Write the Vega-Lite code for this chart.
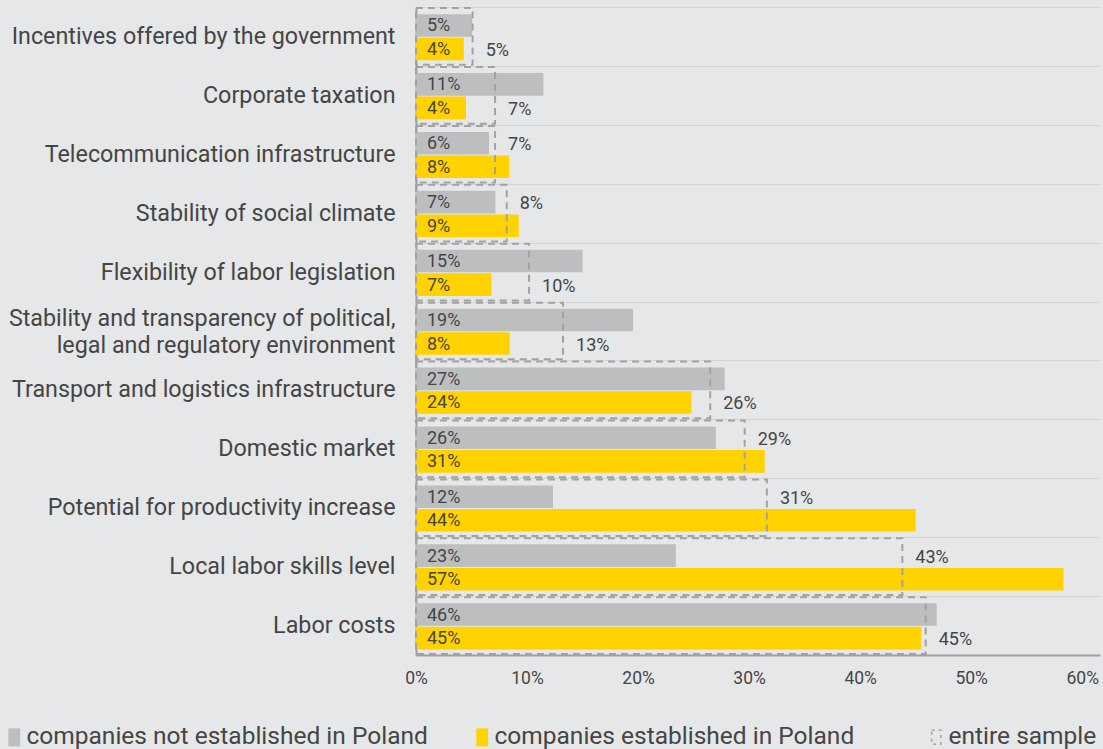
{
  "$schema": "https://vega.github.io/schema/vega-lite/v6.json",
  "autosize": {"type": "none"},
  "padding": {"left": 416, "top": 7, "right": 3, "bottom": 94},
  "width": 684,
  "height": 648,
  "background": "#e6e7e8",
  "config": {"view": {"stroke": null}, "font": "Roboto"},
  "datasets": {
    "bars": [
      {"category": "Incentives offered by the government", "series": "companies not established in Poland", "value": 5.05, "label": "5%"},
      {"category": "Incentives offered by the government", "series": "companies established in Poland", "value": 4.3, "label": "4%"},
      {"category": "Corporate taxation", "series": "companies not established in Poland", "value": 11.47, "label": "11%"},
      {"category": "Corporate taxation", "series": "companies established in Poland", "value": 4.5, "label": "4%"},
      {"category": "Telecommunication infrastructure", "series": "companies not established in Poland", "value": 6.58, "label": "6%"},
      {"category": "Telecommunication infrastructure", "series": "companies established in Poland", "value": 8.38, "label": "8%"},
      {"category": "Stability of social climate", "series": "companies not established in Poland", "value": 7.15, "label": "7%"},
      {"category": "Stability of social climate", "series": "companies established in Poland", "value": 9.25, "label": "9%"},
      {"category": "Flexibility of labor legislation", "series": "companies not established in Poland", "value": 15.0, "label": "15%"},
      {"category": "Flexibility of labor legislation", "series": "companies established in Poland", "value": 6.79, "label": "7%"},
      {"category": "Stability and transparency of political, legal and regulatory environment", "series": "companies not established in Poland", "value": 19.55, "label": "19%"},
      {"category": "Stability and transparency of political, legal and regulatory environment", "series": "companies established in Poland", "value": 8.44, "label": "8%"},
      {"category": "Transport and logistics infrastructure", "series": "companies not established in Poland", "value": 27.8, "label": "27%"},
      {"category": "Transport and logistics infrastructure", "series": "companies established in Poland", "value": 24.8, "label": "24%"},
      {"category": "Domestic market", "series": "companies not established in Poland", "value": 27.0, "label": "26%"},
      {"category": "Domestic market", "series": "companies established in Poland", "value": 31.4, "label": "31%"},
      {"category": "Potential for productivity increase", "series": "companies not established in Poland", "value": 12.34, "label": "12%"},
      {"category": "Potential for productivity increase", "series": "companies established in Poland", "value": 45.0, "label": "44%"},
      {"category": "Local labor skills level", "series": "companies not established in Poland", "value": 23.4, "label": "23%"},
      {"category": "Local labor skills level", "series": "companies established in Poland", "value": 58.3, "label": "57%"},
      {"category": "Labor costs", "series": "companies not established in Poland", "value": 46.9, "label": "46%"},
      {"category": "Labor costs", "series": "companies established in Poland", "value": 45.5, "label": "45%"}
    ],
    "entire": [
      {"category": "Incentives offered by the government", "entire": 5.1, "elabel": "5%"},
      {"category": "Corporate taxation", "entire": 7.12, "elabel": "7%"},
      {"category": "Telecommunication infrastructure", "entire": 7.12, "elabel": "7%"},
      {"category": "Stability of social climate", "entire": 8.17, "elabel": "8%"},
      {"category": "Flexibility of labor legislation", "entire": 10.18, "elabel": "10%"},
      {"category": "Stability and transparency of political, legal and regulatory environment", "entire": 13.24, "elabel": "13%"},
      {"category": "Transport and logistics infrastructure", "entire": 26.5, "elabel": "26%"},
      {"category": "Domestic market", "entire": 29.6, "elabel": "29%"},
      {"category": "Potential for productivity increase", "entire": 31.6, "elabel": "31%"},
      {"category": "Local labor skills level", "entire": 43.8, "elabel": "43%"},
      {"category": "Labor costs", "entire": 45.9, "elabel": "45%"}
    ]
  },
  "encoding": {
    "y": {
      "field": "category",
      "type": "nominal",
      "title": null,
      "scale": {
        "domain": [
          "Incentives offered by the government",
          "Corporate taxation",
          "Telecommunication infrastructure",
          "Stability of social climate",
          "Flexibility of labor legislation",
          "Stability and transparency of political, legal and regulatory environment",
          "Transport and logistics infrastructure",
          "Domestic market",
          "Potential for productivity increase",
          "Local labor skills level",
          "Labor costs"
        ],
        "paddingInner": 0,
        "paddingOuter": 0
      },
      "axis": {
        "title": null,
        "ticks": false,
        "grid": true,
        "tickBand": "extent",
        "gridColor": "#d3d4d6",
        "gridWidth": 1,
        "domainColor": "#a0a0a0",
        "domainWidth": 2,
        "labelFont": "Roboto",
        "labelFontSize": 23.3,
        "labelColor": "#454545",
        "labelPadding": 21,
        "labelLimit": 600,
        "labelLineHeight": 27,
        "labelOffset": {"condition": {"test": "indexof(datum.label, 'political') >= 0", "value": -13}, "value": 0},
        "labelExpr": "datum.label == 'Stability and transparency of political, legal and regulatory environment' ? ['Stability and transparency of political,', 'legal and regulatory environment'] : datum.label"
      }
    }
  },
  "layer": [
    {
      "data": {"name": "bars"},
      "mark": {"type": "bar"},
      "encoding": {
        "x": {
          "field": "value",
          "type": "quantitative",
          "title": null,
          "scale": {"domain": [0, 61.6], "nice": false, "zero": true},
          "axis": {
            "title": null,
            "values": [0, 10, 20, 30, 40, 50, 60],
            "labelExpr": "datum.value + '%'",
            "ticks": false,
            "grid": false,
            "domainColor": "#a0a0a0",
            "domainWidth": 2,
            "labelFont": "Roboto",
            "labelFontSize": 17.5,
            "labelColor": "#454545",
            "labelPadding": 14,
            "labelFlush": false,
            "labelOverlap": false
          }
        },
        "yOffset": {
          "field": "series",
          "type": "nominal",
          "scale": {
            "domain": ["companies not established in Poland", "companies established in Poland"],
            "paddingInner": 0.042,
            "paddingOuter": 0.27,
            "align": 0.56
          }
        },
        "color": {
          "field": "series",
          "type": "nominal",
          "scale": {
            "domain": ["companies not established in Poland", "companies established in Poland"],
            "range": ["#bdbec0", "#ffd200"]
          },
          "legend": {
            "title": null,
            "orient": "none",
            "legendX": -414,
            "legendY": 718,
            "direction": "horizontal",
            "symbolType": "M-0.66,-1H0.66V1H-0.66Z",
            "symbolSize": 324,
            "symbolStrokeWidth": 0,
            "labelFont": "Roboto",
            "labelFontSize": 24.5,
            "labelColor": "#454545",
            "labelOffset": 0,
            "labelLimit": 600,
            "columnPadding": 42,
            "padding": 0
          }
        }
      }
    },
    {
      "data": {"name": "entire"},
      "mark": {"type": "bar", "filled": false, "height": {"band": 0.962}, "strokeWidth": 2, "strokeDash": [7, 5]},
      "encoding": {
        "x": {"field": "entire", "type": "quantitative", "title": null},
        "stroke": {
          "datum": "entire sample",
          "type": "nominal",
          "scale": {"range": ["#a2a2a2"]},
          "legend": {
            "title": null,
            "orient": "none",
            "legendX": 508,
            "legendY": 718,
            "symbolType": "M-0.66,-1H0.66V1H-0.66Z",
            "symbolSize": 196,
            "symbolStrokeWidth": 1.5,
            "symbolDash": [3, 4],
            "symbolFillColor": "transparent",
            "labelFont": "Roboto",
            "labelFontSize": 24.5,
            "labelColor": "#454545",
            "labelOffset": 0,
            "labelLimit": 600,
            "padding": 0
          }
        }
      }
    },
    {
      "data": {"name": "bars"},
      "mark": {"type": "text", "align": "left", "baseline": "middle", "dx": 11, "dy": 1, "fontSize": 18, "font": "Roboto", "color": "#454545"},
      "encoding": {
        "x": {"datum": 0, "type": "quantitative", "title": null},
        "yOffset": {"field": "series", "type": "nominal"},
        "text": {"field": "label", "type": "nominal"}
      }
    },
    {
      "data": {"name": "bars"},
      "transform": [
        {"joinaggregate": [{"op": "min", "field": "value", "as": "minv"}], "groupby": ["category"]},
        {"filter": "datum.value === datum.minv"},
        {"lookup": "category", "from": {"data": {"name": "entire"}, "key": "category", "fields": ["entire", "elabel"]}}
      ],
      "mark": {"type": "text", "align": "left", "baseline": "middle", "dx": 13, "dy": 2, "fontSize": 18, "font": "Roboto", "color": "#454545"},
      "encoding": {
        "x": {"field": "entire", "type": "quantitative", "title": null},
        "yOffset": {"field": "series", "type": "nominal"},
        "text": {"field": "elabel", "type": "nominal"}
      }
    }
  ]
}
